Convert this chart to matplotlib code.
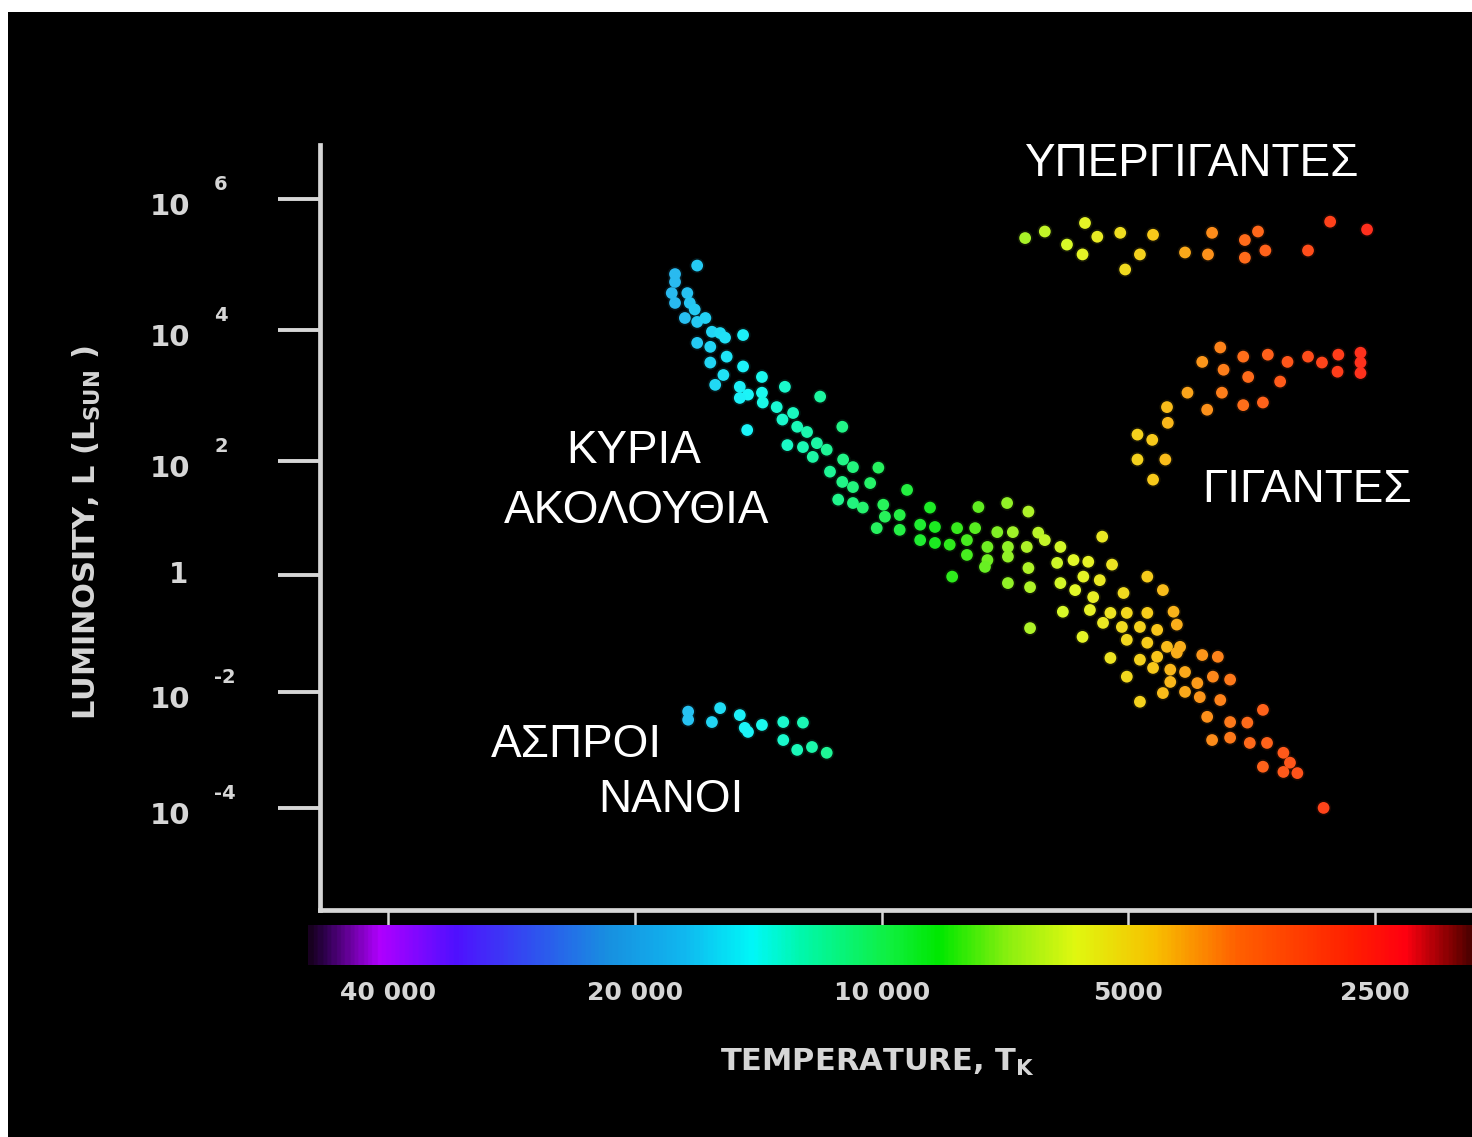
import numpy as np
import matplotlib
matplotlib.use("Agg")
import matplotlib.pyplot as plt
from matplotlib.colors import LinearSegmentedColormap, Normalize
from matplotlib.patches import Rectangle

# κύρια ακολουθία: log10(T), log10(L/Lsun)
ms_logt = [4.225, 4.252, 4.252, 4.256, 4.252, 4.237, 4.234, 4.228, 4.240, 4.225,
           4.215, 4.207, 4.197, 4.191, 4.169, 4.225, 4.209, 4.189, 4.209, 4.169,
           4.193, 4.203, 4.146, 4.173, 4.163, 4.173, 4.146, 4.118, 4.145, 4.128,
           4.075, 4.108, 4.121, 4.164, 4.103, 4.091, 4.048, 4.115, 4.096, 4.079,
           4.084, 4.067, 4.047, 4.035, 4.004, 4.063, 4.048, 4.035, 4.014, 3.969,
           4.053, 4.035, 4.023, 3.998, 3.996, 3.978, 3.941, 3.882, 3.847, 3.821,
           4.006, 3.978, 3.953, 3.935, 3.908, 3.886, 3.859, 3.840, 3.809, 3.731,
           3.953, 3.935, 3.917, 3.896, 3.871, 3.846, 3.823, 3.801, 3.782, 3.896,
           3.871, 3.846, 3.821, 3.914, 3.874, 3.846, 3.819, 3.819,
           3.786, 3.766, 3.748, 3.719, 3.676, 3.782, 3.754, 3.734, 3.657, 3.764,
           3.742, 3.705, 3.779, 3.746, 3.721, 3.701, 3.676, 3.644, 3.730, 3.707,
           3.685, 3.664, 3.640, 3.755, 3.701, 3.676, 3.652, 3.636, 3.664, 3.640,
           3.609, 3.590, 3.721, 3.685, 3.669, 3.648, 3.630, 3.596, 3.575, 3.701,
           3.648, 3.615, 3.685, 3.657, 3.630, 3.612, 3.587, 3.603, 3.535, 3.575,
           3.554, 3.597, 3.575, 3.551, 3.530, 3.535, 3.510, 3.502, 3.493, 3.510,
           3.461]
ms_logl = [4.98, 4.85, 4.73, 4.56, 4.41, 4.56, 4.41, 4.31, 4.18, 4.12,
           4.18, 3.97, 3.95, 3.88, 3.92, 3.80, 3.74, 3.59, 3.50, 3.44,
           3.31, 3.16, 3.28, 3.13, 3.01, 2.96, 3.04, 3.13, 2.89, 2.82,
           2.98, 2.73, 2.63, 2.47, 2.52, 2.44, 2.52, 2.24, 2.21, 2.27,
           2.06, 2.17, 2.02, 1.89, 1.88, 1.81, 1.63, 1.54, 1.61, 1.49,
           1.32, 1.26, 1.18, 1.23, 1.02, 1.05, 1.18, 1.19, 1.26, 1.11,
           0.82, 0.79, 0.88, 0.84, 0.82, 0.82, 0.75, 0.75, 0.74, 0.67,
           0.61, 0.56, 0.53, 0.61, 0.49, 0.49, 0.49, 0.61, 0.49, 0.35,
           0.26, 0.32, 0.12, -0.03, 0.14, -0.14, -0.21, -0.91,
           0.21, 0.26, 0.23, 0.18, -0.03, -0.14, -0.03, -0.09, -0.26, -0.26,
           -0.38, -0.31, -0.63, -0.60, -0.65, -0.65, -0.65, -0.63, -0.82, -0.89,
           -0.89, -0.94, -0.85, -1.06, -1.11, -1.16, -1.23, -1.23, -1.40, -1.33,
           -1.37, -1.40, -1.42, -1.45, -1.59, -1.62, -1.66, -1.74, -1.79, -1.74,
           -1.83, -1.85, -2.17, -2.02, -2.00, -2.09, -2.14, -2.43, -2.31, -2.52,
           -2.53, -2.83, -2.79, -2.88, -2.88, -3.29, -3.05, -3.22, -3.40, -3.38,
           -4.00]

# υπεργίγαντες
sg_logt = [3.825, 3.801, 3.774, 3.752, 3.737, 3.755, 3.709, 3.703, 3.685, 3.669,
           3.630, 3.602, 3.597, 3.557, 3.541, 3.557, 3.532, 3.480, 3.453, 3.408]
sg_logl = [5.40, 5.50, 5.30, 5.63, 5.42, 5.15, 5.48, 4.92, 5.15, 5.45,
           5.18, 5.15, 5.48, 5.37, 5.50, 5.10, 5.21, 5.21, 5.65, 5.53]

# γίγαντες
g_logt = [3.587, 3.609, 3.559, 3.529, 3.505, 3.480, 3.463, 3.443, 3.444, 3.416,
          3.416, 3.416, 3.583, 3.553, 3.514, 3.627, 3.585, 3.603, 3.559, 3.535,
          3.652, 3.651, 3.688, 3.670, 3.688, 3.654, 3.669]
g_logl = [3.73, 3.51, 3.59, 3.62, 3.51, 3.59, 3.50, 3.62, 3.36, 3.65,
          3.34, 3.50, 3.39, 3.28, 3.21, 3.04, 3.04, 2.78, 2.85, 2.89,
          2.82, 2.58, 2.40, 2.32, 2.02, 2.02, 1.67]

# λευκοί νάνοι
wd_logt = [4.236, 4.236, 4.197, 4.207, 4.173, 4.167, 4.163, 4.146, 4.120, 4.096,
           4.120, 4.103, 4.085, 4.067]
wd_logl = [-2.34, -2.48, -2.28, -2.52, -2.40, -2.62, -2.69, -2.57, -2.52, -2.53,
           -2.83, -3.00, -2.95, -3.05]

temp_ticks = [40000, 20000, 10000, 5000, 2500]
temp_labels = ['40 000', '20 000', '10 000', '5000', '2500']
lum_ticks = [6, 4, 2, 0, -2, -4]
lum_exps = ['6', '4', '2', '', '-2', '-4']

# χρώματα φάσματος κατά μήκος του log T
spec_logt = [3.280, 3.293, 3.358, 3.426, 3.564, 3.665, 3.763, 3.841, 3.929, 3.991,
             4.103, 4.158, 4.242, 4.336, 4.429, 4.523, 4.616, 4.682, 4.700]
spec_cols = ['#500000', '#700000', '#ff0010', '#ff2000', '#ff6000', '#f8c000',
             '#e0f810', '#90f010', '#00e800', '#10f040', '#00f8b0', '#00f8f8',
             '#10b8f0', '#1890e0', '#3050f0', '#5010ff', '#b000ff', '#300050', '#180020']

t_lo, t_hi = spec_logt[0], spec_logt[-1]
cmap = LinearSegmentedColormap.from_list(
    'spec', [((t - t_lo) / (t_hi - t_lo), c) for t, c in zip(spec_logt, spec_cols)])
norm = Normalize(t_lo, t_hi)

# ο άξονας φωτεινότητας του σχήματος δεν έχει ίσα διαστήματα
lum_anchor = [-8, -4, -2, 0, 2, 4, 6, 10]
row_anchor = [-8, -4, -2, 0.017, 1.983, 4.242, 6.501, 11.02]

def fwd(v):
    return np.interp(v, lum_anchor, row_anchor)

def inv(u):
    return np.interp(u, row_anchor, lum_anchor)

fg = '#d6d6d6'
W, H = 1472, 1137
fig = plt.figure(figsize=(14.72, 11.37), dpi=100, facecolor='white')
fig.patches.append(Rectangle((8 / W, 0), 1 - 8 / W, 1 - 12 / H, transform=fig.transFigure,
                             facecolor='black', edgecolor='none', zorder=-10))

ax = fig.add_axes([320 / W, 1 - 910 / H, 1152 / W, 765 / H])
ax.set_facecolor('black')
ax.set_yscale('function', functions=(fwd, inv))
ax.set_xlim(4.685, 3.280)
ax.set_ylim(-5.76, 6.82)

def star_colors(logt):
    c = cmap(norm(np.asarray(logt)))[:, :3]
    return c * 0.9 + 0.1

for xs, ys in [(ms_logt, ms_logl), (sg_logt, sg_logl), (g_logt, g_logl), (wd_logt, wd_logl)]:
    cols = star_colors(xs)
    ax.scatter(xs, ys, s=120, c=cols, alpha=0.10, linewidths=0, zorder=2)
    ax.scatter(xs, ys, s=72, c=cols, linewidths=0, zorder=3)

for side in ['top', 'right']:
    ax.spines[side].set_visible(False)
for side in ['left', 'bottom']:
    ax.spines[side].set_color(fg)
    ax.spines[side].set_linewidth(3.4)

ax.set_xticks(np.log10(temp_ticks))
ax.set_xticklabels(temp_labels)
ax.tick_params(axis='x', direction='out', length=11, width=1.8, color=fg,
               labelcolor=fg, labelsize=18, pad=40)
for lab in ax.get_xticklabels():
    lab.set_fontweight('bold')

ax.set_yticks(lum_ticks)
ax.set_yticklabels([''] * len(lum_ticks))
ax.tick_params(axis='y', direction='out', length=30, width=2.8, color=fg)
ytr = ax.get_yaxis_transform()
for v, e in zip(lum_ticks, lum_exps):
    if e == '':
        ax.annotate('1', xy=(0, v), xycoords=ytr, xytext=(-132, 0), textcoords='offset pixels',
                    ha='right', va='center', fontsize=20, fontweight='bold', color=fg)
        continue
    ax.annotate('10', xy=(0, v), xycoords=ytr, xytext=(-130, -8), textcoords='offset pixels',
                ha='right', va='center', fontsize=21, fontweight='bold', color=fg)
    ax.annotate(e, xy=(0, v), xycoords=ytr, xytext=(-106, 14), textcoords='offset pixels',
                ha='left', va='center', fontsize=14, fontweight='bold', color=fg)

ax.set_xlabel(r'TEMPERATURE, T$_{\mathregular{K}}$', fontsize=22, fontweight='bold', color=fg)
ax.xaxis.set_label_coords(0.4835, -0.199)
ax.xaxis.label.set_va('center')
ax.set_ylabel(r'LUMINOSITY, L (L$_{\mathregular{SUN}}$ )', fontsize=22, fontweight='bold', color=fg)
ax.yaxis.set_label_coords(-0.202, 0.494)
ax.yaxis.label.set_va('center')

# ταινία φάσματος κάτω από τον άξονα
cax = fig.add_axes([308 / W, 1 - 965 / H, 1164 / W, 40 / H])
grad = np.linspace(t_hi, t_lo, 600).reshape(1, -1)
cax.imshow(grad, cmap=cmap, norm=norm, aspect='auto', extent=(t_hi, t_lo, 0, 1))
cax.set_xlim(t_hi, t_lo)
cax.axis('off')

greek = dict(family=['Liberation Sans', 'DejaVu Sans'], fontsize=33, color='white',
             ha='center', va='baseline')
fig.text(634 / W, 1 - 463 / H, 'ΚΥΡΙΑ', **greek)
fig.text(637 / W, 1 - 523 / H, 'ΑΚΟΛΟΥΘΙΑ', **greek)
fig.text(576 / W, 1 - 757 / H, 'ΑΣΠΡΟΙ', **greek)
fig.text(671 / W, 1 - 812 / H, 'ΝΑΝΟΙ', **greek)
fig.text(1191 / W, 1 - 176 / H, 'ΥΠΕΡΓΙΓΑΝΤΕΣ', **greek)
fig.text(1307 / W, 1 - 502 / H, 'ΓΙΓΑΝΤΕΣ', **greek)

fig.savefig('out.png', dpi=100, facecolor=fig.get_facecolor())
